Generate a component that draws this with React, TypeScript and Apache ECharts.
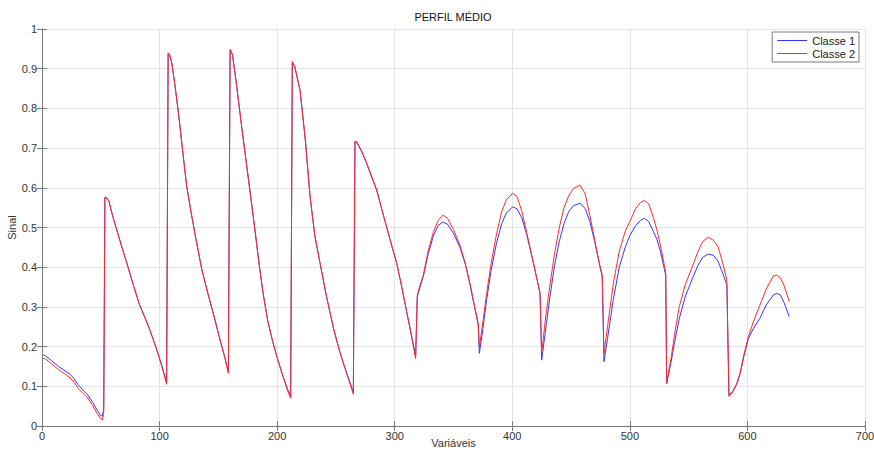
import React, { useEffect, useRef } from "react";
import * as echarts from "echarts";

const titleText = "PERFIL MÉDIO";
const xName = "Variáveis";
const yName = "Sinal";
const seriesNames = ["Classe 1", "Classe 2"];

// shared x positions of the vertices (variable index)
const xs = [
  1, 3, 8, 14, 20, 24, 27, 31, 35, 39, 43, 47, 50, 51.5, 52.5,
  53.5, 55, 57, 60, 63, 68, 73, 78, 83, 88, 92, 97, 102, 106,
  107.3, 108.5, 110.5, 113, 116, 119, 123, 127, 131, 136, 141, 146, 151, 155, 158.5,
  160, 162, 165, 170, 175, 180, 185, 188, 192, 196, 200, 205, 209, 211.5,
  212.9, 215, 219.5, 224, 228, 232, 236.5, 242, 248, 253, 257, 261, 264.8,
  266.2, 268, 272, 276, 280, 284.6, 290, 296, 301.7, 306, 310, 314, 317.8,
  319.2, 321, 324.3, 328, 332.8, 337, 341, 345, 350, 355.5, 360, 364, 368, 371, 372,
  375, 378.2, 382, 386.7, 391, 395, 400.3, 404, 408, 412.3, 418, 421, 423.6, 425,
  428, 432, 436, 440, 444, 448, 452, 457.6, 462, 466, 470, 474, 476.5, 478,
  481, 486, 491, 496, 500, 505, 509, 512.3, 516, 520, 523, 526, 529, 530.5, 531.3,
  535, 538, 542, 547, 553, 558, 562, 566.7, 571, 575, 579, 582.5, 584.3,
  587, 590.9, 593.7, 597, 600.8, 605, 610.7, 616, 622, 625, 628, 631, 635.6,
];

const classe1 = [
  0.179, 0.177, 0.165, 0.15, 0.138, 0.13, 0.12, 0.103, 0.09, 0.078, 0.06, 0.04, 0.026, 0.025, 0.045,
  0.575, 0.574, 0.565, 0.53, 0.5, 0.45, 0.402, 0.352, 0.305, 0.27, 0.24, 0.198, 0.152, 0.11,
  0.938, 0.935, 0.912, 0.86, 0.79, 0.71, 0.605, 0.535, 0.47, 0.393, 0.335, 0.28, 0.222, 0.178, 0.137,
  0.947, 0.935, 0.87, 0.75, 0.635, 0.52, 0.4, 0.335, 0.265, 0.215, 0.172, 0.125, 0.092, 0.075,
  0.916, 0.905, 0.845, 0.72, 0.578, 0.48, 0.41, 0.326, 0.245, 0.19, 0.152, 0.118, 0.085,
  0.715, 0.713, 0.69, 0.662, 0.63, 0.594, 0.535, 0.47, 0.41, 0.35, 0.29, 0.233, 0.175,
  0.325, 0.345, 0.376, 0.428, 0.478, 0.505, 0.514, 0.508, 0.485, 0.45, 0.408, 0.357, 0.298, 0.255, 0.183,
  0.245, 0.318, 0.392, 0.462, 0.51, 0.537, 0.552, 0.547, 0.525, 0.482, 0.41, 0.37, 0.334, 0.166,
  0.235, 0.325, 0.405, 0.465, 0.51, 0.54, 0.555, 0.561, 0.548, 0.515, 0.465, 0.41, 0.375, 0.162,
  0.22, 0.32, 0.4, 0.45, 0.48, 0.505, 0.518, 0.523, 0.515, 0.49, 0.47, 0.44, 0.4, 0.38, 0.107,
  0.16, 0.21, 0.27, 0.325, 0.37, 0.405, 0.425, 0.433, 0.43, 0.415, 0.385, 0.355, 0.078,
  0.085, 0.105, 0.13, 0.175, 0.22, 0.245, 0.272, 0.305, 0.33, 0.334, 0.33, 0.312, 0.275,
];

const classe2 = [
  0.17, 0.169, 0.157, 0.142, 0.13, 0.121, 0.111, 0.094, 0.082, 0.07, 0.052, 0.031, 0.018, 0.015, 0.035,
  0.577, 0.575, 0.566, 0.53, 0.5, 0.45, 0.402, 0.352, 0.305, 0.27, 0.24, 0.197, 0.15, 0.105,
  0.94, 0.936, 0.913, 0.86, 0.79, 0.71, 0.605, 0.535, 0.47, 0.393, 0.335, 0.28, 0.222, 0.178, 0.133,
  0.949, 0.936, 0.87, 0.75, 0.635, 0.52, 0.4, 0.335, 0.265, 0.215, 0.172, 0.125, 0.088, 0.07,
  0.918, 0.906, 0.845, 0.72, 0.578, 0.48, 0.41, 0.326, 0.245, 0.19, 0.152, 0.115, 0.08,
  0.718, 0.715, 0.692, 0.664, 0.632, 0.596, 0.535, 0.47, 0.41, 0.35, 0.29, 0.23, 0.17,
  0.33, 0.35, 0.38, 0.435, 0.488, 0.518, 0.531, 0.523, 0.495, 0.455, 0.41, 0.359, 0.3, 0.259, 0.198,
  0.262, 0.334, 0.41, 0.485, 0.54, 0.57, 0.586, 0.578, 0.542, 0.487, 0.41, 0.37, 0.334, 0.183,
  0.265, 0.355, 0.435, 0.5, 0.55, 0.58, 0.598, 0.607, 0.585, 0.53, 0.47, 0.41, 0.38, 0.183,
  0.25, 0.36, 0.44, 0.49, 0.515, 0.548, 0.563, 0.568, 0.56, 0.525, 0.494, 0.455, 0.41, 0.385, 0.107,
  0.17, 0.23, 0.3, 0.355, 0.4, 0.44, 0.465, 0.475, 0.468, 0.452, 0.41, 0.368, 0.074,
  0.083, 0.107, 0.133, 0.18, 0.225, 0.262, 0.305, 0.345, 0.378, 0.38, 0.373, 0.355, 0.313,
];

const colors = ["#3535ff", "#ff2a2a"];
const FONT = "'Liberation Sans', Arial, sans-serif";
const AXIS_COLOR = "#7a7a7a";
const GRID_COLOR = "#e4e4e4";
const LABEL_COLOR = "#333333";

export default function App() {
  const ref = useRef<HTMLDivElement>(null);

  useEffect(() => {
    if (!ref.current) return;
    const chart = echarts.init(ref.current, undefined, { renderer: "svg" });
    const toPairs = (ys: number[]) => xs.map((x, i) => [x, ys[i]]);

    const tickCommon = { show: true, inside: true, length: 5, lineStyle: { color: AXIS_COLOR } };
    const lineCommon = { show: true, lineStyle: { color: AXIS_COLOR, width: 1 } };

    chart.setOption({
      animation: false,
      backgroundColor: "#ffffff",
      textStyle: { fontFamily: FONT },
      grid: { left: 42, right: 9, top: 29, bottom: 24, containLabel: false, outerBoundsMode: "none" },
      graphic: [
        {
          type: "text",
          x: 453,
          y: 17,
          style: {
            text: titleText,
            fontFamily: FONT,
            fontSize: 11,
            fill: "#111",
            textAlign: "center",
            textVerticalAlign: "middle",
          },
        },
      ],
      legend: {
        data: seriesNames,
        orient: "vertical",
        right: 15,
        top: 32,
        icon: "rect",
        itemWidth: 30,
        itemHeight: 1,
        itemGap: 2,
        padding: [3, 4, 3, 5],
        borderColor: "#7a7a7a",
        borderWidth: 1,
        backgroundColor: "#ffffff",
        textStyle: { fontFamily: FONT, fontSize: 11, color: "#222" },
      },
      xAxis: [
        {
          type: "value",
          min: 0,
          max: 700,
          interval: 100,
          name: xName,
          nameLocation: "middle",
          nameGap: 11,
          nameMoveOverlap: false,
          nameTextStyle: { fontFamily: FONT, fontSize: 11, color: LABEL_COLOR },
          axisLine: lineCommon,
          axisTick: tickCommon,
          axisLabel: { fontFamily: FONT, fontSize: 11, color: LABEL_COLOR, margin: 4 },
          splitLine: { show: true, lineStyle: { color: GRID_COLOR, width: 1 } },
        },
        {
          type: "value",
          position: "top",
          min: 0,
          max: 700,
          interval: 100,
          axisLine: lineCommon,
          axisTick: tickCommon,
          axisLabel: { show: false },
          splitLine: { show: false },
        },
      ],
      yAxis: [
        {
          type: "value",
          min: 0,
          max: 1,
          interval: 0.1,
          name: yName,
          nameLocation: "middle",
          nameGap: 25,
          nameMoveOverlap: false,
          nameTextStyle: { fontFamily: FONT, fontSize: 11, color: LABEL_COLOR },
          axisLine: lineCommon,
          axisTick: tickCommon,
          axisLabel: { fontFamily: FONT, fontSize: 11, color: LABEL_COLOR, margin: 5 },
          splitLine: { show: true, lineStyle: { color: GRID_COLOR, width: 1 } },
        },
        {
          type: "value",
          position: "right",
          min: 0,
          max: 1,
          interval: 0.1,
          axisLine: lineCommon,
          axisTick: tickCommon,
          axisLabel: { show: false },
          splitLine: { show: false },
        },
      ],
      series: [
        {
          name: seriesNames[0],
          type: "line",
          xAxisIndex: 0,
          yAxisIndex: 0,
          data: toPairs(classe1),
          showSymbol: false,
          symbol: "none",
          lineStyle: { color: colors[0], width: 1 },
          itemStyle: { color: colors[0] },
          z: 3,
        },
        {
          name: seriesNames[1],
          type: "line",
          xAxisIndex: 0,
          yAxisIndex: 0,
          data: toPairs(classe2),
          showSymbol: false,
          symbol: "none",
          lineStyle: { color: colors[1], width: 1 },
          itemStyle: { color: colors[1] },
          z: 4,
        },
      ],
    });

    return () => chart.dispose();
  }, []);

  return <div ref={ref} style={{ width: 874, height: 450, position: "fixed", left: 0, top: 0 }} />;
}
